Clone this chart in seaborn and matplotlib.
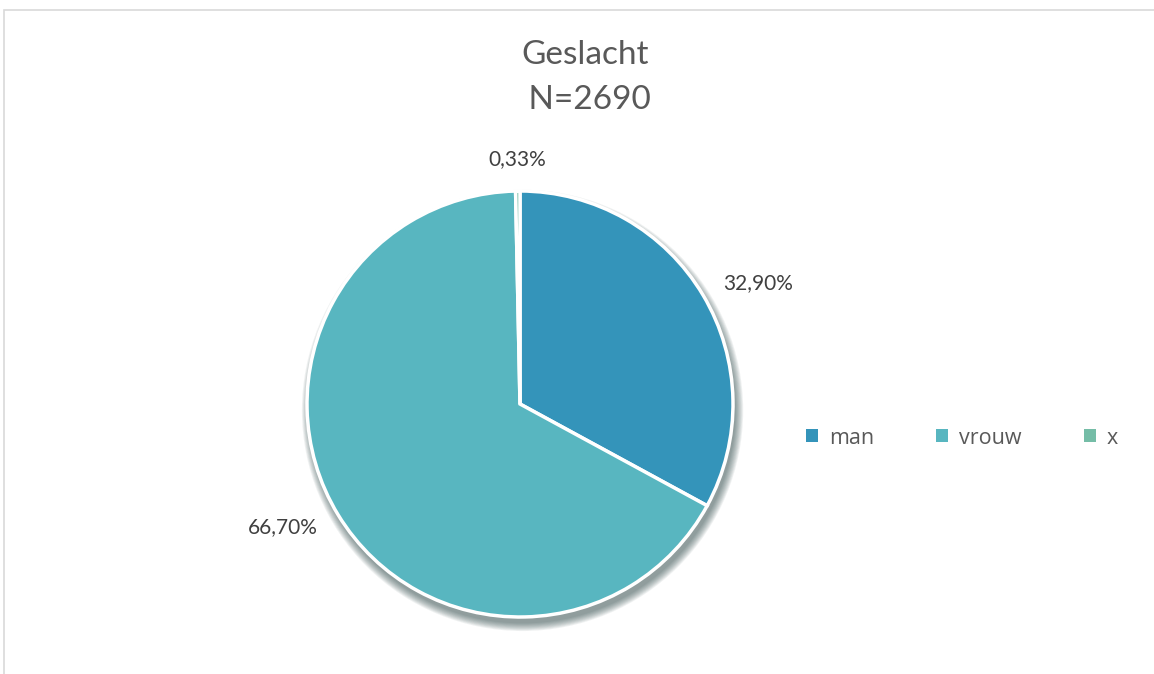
import matplotlib
matplotlib.use("Agg")
import matplotlib.pyplot as plt
import numpy as np
import seaborn as sns
from matplotlib.patches import Rectangle, Patch, Circle

categories = ["man", "vrouw", "x"]
percentages = [32.90, 66.70, 0.33]
colors = ["#3494BA", "#58B6C0", "#75BDA7"]
title_lines = ["Geslacht", " N=2690"]

sns.set_theme(style="white")
plt.rcParams["font.family"] = ["Lato", "DejaVu Sans"]

W, H = 1154, 674
fig = plt.figure(figsize=(W / 100, H / 100), dpi=100)
fig.patch.set_facecolor("white")

# light grey chart-area frame
fig.patches.append(Rectangle((4 / W, -0.1), 1.2, (H - 10) / H + 0.1,
                             transform=fig.transFigure, fill=False,
                             edgecolor="#d9d9d9", linewidth=1.2))

cx, cy, r = 520, 404, 213
ax = fig.add_axes([(cx - r) / W, (H - cy - r) / H, 2 * r / W, 2 * r / H])

# soft drop shadow under the pie
for k in range(10):
    ax.add_patch(Circle((0.012, -0.03), 1.0 + 0.004 * k, facecolor="#2f4a4a",
                        edgecolor="none", alpha=0.07, zorder=0, clip_on=False))

wedges, _ = ax.pie(percentages, colors=colors, startangle=90, counterclock=False,
                   radius=1, wedgeprops=dict(edgecolor="white", linewidth=2.5, zorder=2))
ax.set_xlim(-1, 1)
ax.set_ylim(-1, 1)
ax.set_aspect("equal")
ax.axis("off")

# data labels outside each wedge
dists = [1.11, 1.11, 1.15]
for w, p, d in zip(wedges, percentages, dists):
    ang = np.deg2rad((w.theta1 + w.theta2) / 2)
    x, y = np.cos(ang), np.sin(ang)
    ha = "center" if abs(x) < 0.2 else ("left" if x > 0 else "right")
    ax.text(d * x, d * y, f"{p:.2f}%".replace(".", ","),
            ha=ha, va="center", fontsize=15, color="#404040")

# two-line title
for line, ypx in zip(title_lines, [55, 100]):
    fig.text(585 / W, 1 - ypx / H, line, ha="center", va="center",
             fontsize=24, color="#595959")

handles = [Patch(facecolor=c, edgecolor="none") for c in colors]
fig.legend(handles, categories, loc="center", bbox_to_anchor=(962 / W, 1 - 438 / H),
           ncol=3, frameon=False, labelcolor="#595959",
           prop={"family": ["Open Sans", "DejaVu Sans"], "size": 15.5},
           handlelength=0.55, handleheight=0.55, handletextpad=0.5, columnspacing=2.9)

fig.savefig("out.png", dpi=100, facecolor="white")
